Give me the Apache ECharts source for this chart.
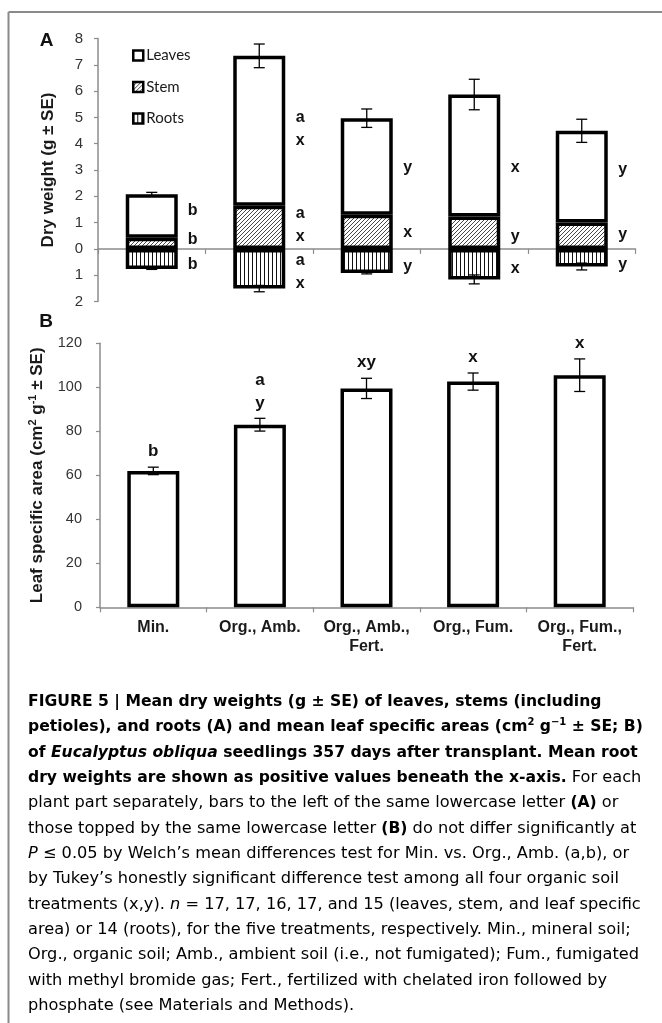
<!DOCTYPE html>
<html><head><meta charset="utf-8">
<script src="https://cdn.jsdelivr.net/npm/echarts@6/dist/echarts.min.js"></script>
<style>html,body{margin:0;padding:0;background:#fff}#c{width:662px;height:1023px}</style>
</head><body><div id="c"></div>
<script>
// ---------- DATA ----------
const categories = ['Min.', 'Org., Amb.', 'Org., Amb.,\nFert.', 'Org., Fum.', 'Org., Fum.,\nFert.'];
// Panel A: dry weights (g)
const stemWeight  = [0.42, 1.64, 1.30, 1.23, 1.00];
const leafWeight  = [1.66, 5.70, 3.67, 4.64, 3.49];
const shootSE     = [0.07, 0.45, 0.35, 0.58, 0.44];
const rootWeight  = [0.76, 1.51, 0.92, 1.16, 0.67];
const rootSE      = [0.02, 0.12, 0.03, 0.17, 0.13];
const leafLetters = ['b', 'a\nx', 'y', 'x', 'y'];
const stemLetters = ['b', 'a\nx', 'x', 'y', 'y'];
const rootLetters = ['b', 'a\nx', 'y', 'x', 'y'];
// Panel B: leaf specific area (cm2 g-1)
const leafArea    = [62.0, 83.0, 99.5, 102.6, 105.5];
const leafAreaSE  = [1.7, 2.9, 4.6, 3.9, 7.4];
const areaLetters = ['b', 'a\ny', 'xy', 'x', 'x'];
const weightTicks = [-2, -1, 0, 1, 2, 3, 4, 5, 6, 7, 8];
const areaTicks   = [0, 20, 40, 60, 80, 100, 120];

// ---------- LAYOUT (annotation anchor levels in axis units) ----------
const letterLevelA = {
  leaves: [1.46, 4.57, 3.08, 3.08, 3.00],
  stem:   [0.35, 0.92, 0.62, 0.47, 0.54],
  roots:  [-0.61, -0.90, -0.68, -0.75, -0.61]
};

// ---------- PATTERNS ----------
function hatchPattern() {
  const c = document.createElement('canvas'); c.width = 4; c.height = 4;
  const g = c.getContext('2d');
  g.fillStyle = '#fff'; g.fillRect(0, 0, 4, 4);
  g.strokeStyle = '#333'; g.lineWidth = 0.9;
  g.beginPath();
  g.moveTo(-1, 5); g.lineTo(5, -1);
  g.moveTo(-1, 1); g.lineTo(1, -1);
  g.moveTo(3, 5); g.lineTo(5, 3);
  g.stroke();
  return { image: c, repeat: 'repeat' };
}
function stripePattern() {
  const c = document.createElement('canvas'); c.width = 4; c.height = 4;
  const g = c.getContext('2d');
  g.fillStyle = '#fff'; g.fillRect(0, 0, 4, 4);
  g.fillStyle = '#111'; g.fillRect(0, 0, 1, 4);
  return { image: c, repeat: 'repeat' };
}

const chart = echarts.init(document.getElementById('c'), null, { renderer: 'canvas' });

const sans = '"Liberation Sans", Arial, sans-serif';
const axisGray = '#8c8c8c';
const barBorder = { borderColor: '#000', borderWidth: 3.5 };

function errorSeries(xi, yi, centers, ses) {
  return {
    type: 'custom', xAxisIndex: xi, yAxisIndex: yi, z: 6, silent: true,
    data: centers.map((c, i) => [i, c, ses[i]]),
    renderItem: function (params, api) {
      const x = api.value(0), c = api.value(1), s = api.value(2);
      const hi = api.coord([x, c + s]), lo = api.coord([x, c - s]);
      const w = 5.5;
      const st = { stroke: '#000', lineWidth: 1.3 };
      return { type: 'group', children: [
        { type: 'line', shape: { x1: hi[0], y1: hi[1], x2: lo[0], y2: lo[1] }, style: st },
        { type: 'line', shape: { x1: hi[0] - w, y1: hi[1], x2: hi[0] + w, y2: hi[1] }, style: st },
        { type: 'line', shape: { x1: lo[0] - w, y1: lo[1], x2: lo[0] + w, y2: lo[1] }, style: st }
      ]};
    }
  };
}

function letterSeriesA(levels, letters) {
  return {
    type: 'custom', xAxisIndex: 0, yAxisIndex: 0, z: 7, silent: true,
    data: levels.map((v, i) => [i, v]),
    renderItem: function (params, api) {
      const p = api.coord([api.value(0), api.value(1)]);
      return { type: 'text', x: p[0] + 41, y: p[1], style: {
        text: letters[params.dataIndex], align: 'center', verticalAlign: 'middle',
        font: 'bold 16px ' + sans, fill: '#111', lineHeight: 23 } };
    }
  };
}

const letterSeriesB = {
  type: 'custom', xAxisIndex: 1, yAxisIndex: 1, z: 7, silent: true,
  data: leafArea.map((v, i) => [i, v + leafAreaSE[i]]),
  renderItem: function (params, api) {
    const p = api.coord([api.value(0), api.value(1)]);
    return { type: 'text', x: p[0], y: p[1] - 4, style: {
      text: areaLetters[params.dataIndex], align: 'center', verticalAlign: 'bottom',
      font: 'bold 17px ' + sans, fill: '#111', lineHeight: 23 } };
  }
};

// ---------- CAPTION ----------
const capLines = [
  '{b|FIGURE 5 | Mean dry weights (g ± SE) of leaves, stems (including}',
  '{b|petioles), and roots (A) and mean leaf specific areas (cm}{bs|2}{b| g}{bs|−1}{b| ± SE; B)}',
  '{b|of }{bi|Eucalyptus obliqua}{b| seedlings 357 days after transplant. Mean root}',
  '{b|dry weights are shown as positive values beneath the x-axis.}{n| For each}',
  '{n|plant part separately, bars to the left of the same lowercase letter }{b|(A)}{n| or}',
  '{n|those topped by the same lowercase letter }{b|(B)}{n| do not differ significantly at}',
  '{i|P}{n| ≤ 0.05 by Welch’s mean differences test for Min. vs. Org., Amb. (a,b), or}',
  '{n|by Tukey’s honestly significant difference test among all four organic soil}',
  '{n|treatments (x,y). }{i|n}{n| = 17, 17, 16, 17, and 15 (leaves, stem, and leaf specific}',
  '{n|area) or 14 (roots), for the five treatments, respectively. Min., mineral soil;}',
  '{n|Org., organic soil; Amb., ambient soil (i.e., not fumigated); Fum., fumigated}',
  '{n|with methyl bromide gas; Fert., fertilized with chelated iron followed by}',
  '{n|phosphate (see Materials and Methods).}'
];
const capFam = '"DejaVu Sans", "Liberation Sans", sans-serif';
const capRich = {
  b:  { fontFamily: capFam, fontWeight: 'bold', fontSize: 15.6, color: '#151515', lineHeight: 20 },
  bi: { fontFamily: capFam, fontWeight: 'bold', fontStyle: 'italic', fontSize: 15.6, color: '#151515', lineHeight: 20 },
  bs: { fontFamily: capFam, fontWeight: 'bold', fontSize: 10, color: '#151515', lineHeight: 20, verticalAlign: 'top' },
  n:  { fontFamily: capFam, fontSize: 16.2, color: '#404040', lineHeight: 20 },
  i:  { fontFamily: capFam, fontStyle: 'italic', fontSize: 16.2, color: '#404040', lineHeight: 20 }
};
const graphics = [
  { type: 'line', shape: { x1: 8.5, y1: 12, x2: 8.5, y2: 1023 }, style: { stroke: '#8a8a8a', lineWidth: 2 } },
  { type: 'line', shape: { x1: 8.5, y1: 12, x2: 662, y2: 12 }, style: { stroke: '#8a8a8a', lineWidth: 2 } },
  { type: 'text', x: 46.5, y: 41, style: { text: 'A', font: 'bold 19px ' + sans, fill: '#111', align: 'center', verticalAlign: 'middle' } },
  { type: 'text', x: 46, y: 322, style: { text: 'B', font: 'bold 19px ' + sans, fill: '#111', align: 'center', verticalAlign: 'middle' } }
];
capLines.forEach((t, i) => {
  graphics.push({ type: 'text', x: 28, y: 702 + 25.3 * i, style: { text: t, rich: capRich, verticalAlign: 'middle', align: 'left' } });
});

const option = {
  backgroundColor: '#fff',
  animation: false,
  grid: [
    { left: 98, right: 26.5, top: 38.5, height: 263 },
    { left: 100, right: 29, top: 343.3, height: 264 }
  ],
  legend: {
    orient: 'vertical', left: 127, top: 43, itemWidth: 10, itemHeight: 10, itemGap: 16.5,
    icon: 'rect', selectedMode: false,
    data: ['Leaves', 'Stem', 'Roots'],
    itemStyle: { borderColor: '#000', borderWidth: 2.5 },
    textStyle: { fontFamily: 'Lato, sans-serif', fontSize: 15, color: '#1a1a1a', padding: [0, 0, 0, -2] }
  },
  xAxis: [
    { type: 'category', gridIndex: 0, data: categories,
      axisLine: { onZero: true, lineStyle: { color: axisGray, width: 1.5 } },
      axisTick: { show: true, length: 5, lineStyle: { color: axisGray, width: 1.2 } },
      axisLabel: { show: false } },
    { type: 'category', gridIndex: 1, data: categories,
      axisLine: { lineStyle: { color: axisGray, width: 1.5 } },
      axisTick: { show: true, length: 5, lineStyle: { color: axisGray, width: 1.2 } },
      axisLabel: { interval: 0, margin: 11, fontFamily: sans, fontWeight: 'bold', fontSize: 16, color: '#1a1a1a', lineHeight: 19 } }
  ],
  yAxis: [
    { type: 'value', gridIndex: 0, min: weightTicks[0], max: weightTicks[weightTicks.length - 1], interval: 1,
      name: 'Dry weight (g ± SE)', nameLocation: 'middle', nameGap: 41, nameRotate: 90,
      nameTextStyle: { fontFamily: sans, fontWeight: 'bold', fontSize: 17, color: '#1a1a1a' },
      axisLine: { show: true, onZero: false, lineStyle: { color: axisGray, width: 1.5 } },
      axisTick: { show: true, length: 4, lineStyle: { color: axisGray, width: 1.2 } },
      splitLine: { show: false },
      axisLabel: { margin: 15, formatter: v => String(Math.abs(v)), fontFamily: sans, fontSize: 15, color: '#333' } },
    { type: 'value', gridIndex: 1, min: areaTicks[0], max: areaTicks[areaTicks.length - 1], interval: 20,
      name: 'Leaf specific area (cm{sup|2} g{sup|-1} ± SE)', nameLocation: 'middle', nameGap: 46, nameRotate: 90,
      nameTextStyle: { fontFamily: sans, fontWeight: 'bold', fontSize: 17, color: '#1a1a1a', lineHeight: 19,
        rich: { sup: { fontFamily: sans, fontWeight: 'bold', fontSize: 11, color: '#1a1a1a', verticalAlign: 'top', lineHeight: 19 } } },
      axisLine: { show: true, lineStyle: { color: axisGray, width: 1.5 } },
      axisTick: { show: true, length: 4, lineStyle: { color: axisGray, width: 1.2 } },
      splitLine: { show: false },
      axisLabel: { margin: 18, fontFamily: sans, fontSize: 14.5, color: '#333' } }
  ],
  series: [
    { name: 'Stem', type: 'bar', stack: 'w', xAxisIndex: 0, yAxisIndex: 0, barWidth: 52,
      data: stemWeight, itemStyle: Object.assign({ color: hatchPattern() }, barBorder) },
    { name: 'Leaves', type: 'bar', stack: 'w', xAxisIndex: 0, yAxisIndex: 0, barWidth: 52,
      data: leafWeight, itemStyle: Object.assign({ color: '#fff' }, barBorder) },
    { name: 'Roots', type: 'bar', stack: 'w', xAxisIndex: 0, yAxisIndex: 0, barWidth: 52,
      data: rootWeight.map(v => -v), itemStyle: Object.assign({ color: stripePattern() }, barBorder) },
    errorSeries(0, 0, leafWeight.map((v, i) => v + stemWeight[i]), shootSE),
    errorSeries(0, 0, rootWeight.map(v => -v), rootSE),
    letterSeriesA(letterLevelA.leaves, leafLetters),
    letterSeriesA(letterLevelA.stem, stemLetters),
    letterSeriesA(letterLevelA.roots, rootLetters),
    { name: 'LSA', type: 'bar', xAxisIndex: 1, yAxisIndex: 1, barWidth: 52,
      data: leafArea, itemStyle: Object.assign({ color: '#fff' }, barBorder) },
    errorSeries(1, 1, leafArea, leafAreaSE),
    letterSeriesB
  ],
  graphic: graphics
};
chart.setOption(option);
</script>
</body></html>
